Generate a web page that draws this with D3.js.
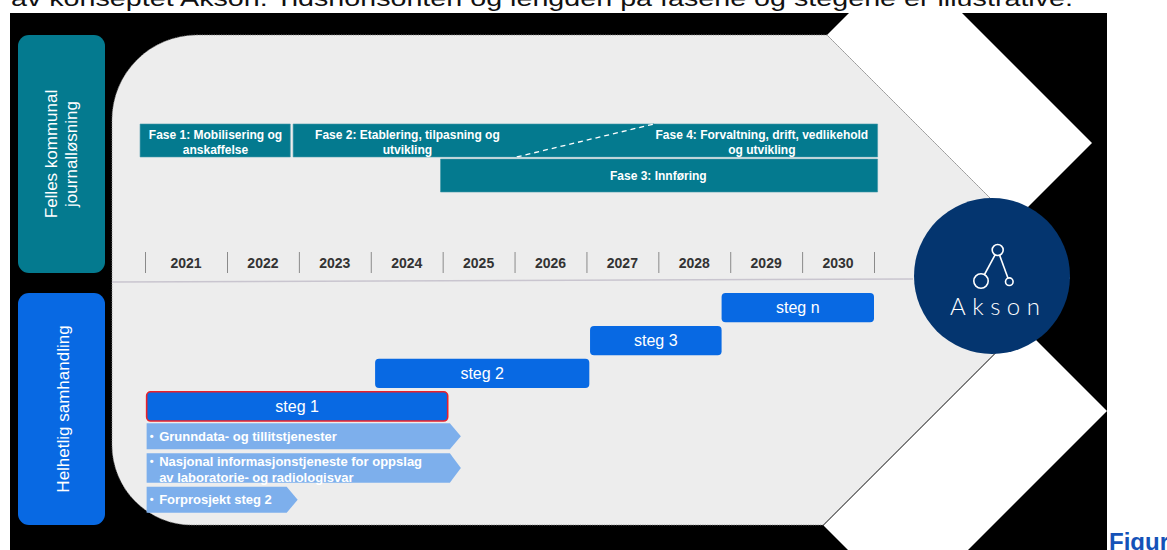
<!DOCTYPE html>
<html><head><meta charset="utf-8">
<script src="https://cdn.jsdelivr.net/npm/d3@7"></script>
<style>html,body{margin:0;padding:0;background:#fff;overflow:hidden}svg{display:block;font-family:"Liberation Sans",Arial,sans-serif}</style>
</head><body>
<svg id="c" width="1167" height="550"></svg>
<script>
// ---- data ----
const years = [2021, 2022, 2023, 2024, 2025, 2026, 2027, 2028, 2029, 2030];
const yearBounds = [2021, 2022, 2023, 2024, 2025, 2026, 2027, 2028, 2029, 2030, 2031];
const phaseLabels = [["Fase 1: Mobilisering og", "anskaffelse"], ["Fase 2: Etablering, tilpasning og", "utvikling"], ["Fase 3: Innføring"], ["Fase 4: Forvaltning, drift, vedlikehold", "og utvikling"]];
const phaseRow = [0, 0, 1, 0];
const phaseStartTop = [2020.94, 2022.92, 2024.97, 2027.94];
const phaseStartBottom = [2020.94, 2022.92, 2024.97, 2026.03];
const phaseEndTop = [2022.88, 2027.94, 2031.05, 2031.05];
const phaseEndBottom = [2022.88, 2026.03, 2031.05, 2031.05];
const phaseLabelYear = [2021.86, 2024.51, 2028.0, 2029.44];
const stepLabels = ["steg 1", "steg 2", "steg 3", "steg n"];
const stepStart = [2021.02, 2024.06, 2027.05, 2028.88];
const stepEnd = [2025.07, 2027.04, 2028.88, 2031.0];
const itemLabels = [["Grunndata- og tillitstjenester"], ["Nasjonal informasjonstjeneste for oppslag", "av laboratorie- og radiologisvar"], ["Forprosjekt steg 2"]];
const itemStart = [2021.02, 2021.02, 2021.02];
const itemEnd = [2025.1, 2025.1, 2022.83];
const sideLabels = [["Felles kommunal", "journalløsning"], ["Helhetlig samhandling"]];
const captionText = "av konseptet Akson. Tidshorisonten og lengden på fasene og stegene er illustrative.";
const figText = "Figur";
const logoText = "Akson";

// ---- drawing ----
const svg = d3.select("#c");
const x = d3.scaleLinear().domain([2021, 2022, 2031]).range([145, 227, 874]);
const teal = "#047a8f", blue = "#0869e3", lightBlue = "#7dafec";

// caption (cut off at top)
svg.append("text").attr("x", 11).attr("y", 6).attr("font-size", 22).attr("fill", "#111")
  .attr("textLength", 1062).attr("lengthAdjust", "spacingAndGlyphs").text(captionText);

// black backdrop
svg.append("rect").attr("x", 10).attr("y", 13).attr("width", 1097).attr("height", 537).attr("fill", "#000");

// white chevron bands
svg.append("path").attr("fill", "#fff")
  .attr("d", "M827,35 L849,13 L962,13 L1092,143 L1013.5,221.5 Z");
svg.append("path").attr("fill", "#fff")
  .attr("d", "M1022.5,326.5 L1107,411 L968,550 L848,550 L823.5,525.5 Z");

// gray arrow body
svg.append("path").attr("fill", "#ededed").attr("stroke", "#8a8a8a").attr("stroke-width", 0.8)
  .attr("stroke-dasharray", "1.2 1.2")
  .attr("d", "M197,35 L827,35 L1070,278 L823,525 L192,525 A80,80 0 0 1 112,445 L112,120 A85,85 0 0 1 197,35 Z");

// divider line
svg.append("line").attr("x1", 112).attr("y1", 282).attr("x2", 913).attr("y2", 279)
  .attr("stroke", "#c9c5cf").attr("stroke-width", 1.5);

// side label boxes
const sideBoxes = [{y0: 35, y1: 273, fill: teal}, {y0: 293, y1: 525, fill: blue}];
sideLabels.forEach((lines, i) => {
  const b = sideBoxes[i];
  svg.append("rect").attr("x", 18).attr("y", b.y0).attr("width", 87).attr("height", b.y1 - b.y0)
    .attr("rx", 11).attr("fill", b.fill);
  const g = svg.append("g").attr("transform", `translate(61.5,${(b.y0 + b.y1) / 2}) rotate(-90)`);
  const base = lines.length === 1 ? 7.5 : -4.5;
  lines.forEach((t, j) => {
    g.append("text").attr("x", 0).attr("y", base + j * 20).attr("text-anchor", "middle")
      .attr("font-size", 17).attr("fill", "#fff").text(t);
  });
});

// phases
const rowY = d3.scaleBand().domain([0, 1]).range([124, 192]).paddingInner(0.06);
phaseLabels.forEach((lines, i) => {
  const y0 = rowY(phaseRow[i]), y1 = y0 + rowY.bandwidth();
  svg.append("path").attr("fill", teal).attr("stroke", "#3f97a8").attr("stroke-width", 0.6)
    .attr("d", `M${x(phaseStartTop[i])},${y0} L${x(phaseEndTop[i])},${y0} L${x(phaseEndBottom[i])},${y1} L${x(phaseStartBottom[i])},${y1} Z`);
});
// hide seam between fase 2 and 4 then dashed divider
svg.append("path").attr("fill", teal)
  .attr("d", `M${x(phaseEndTop[1]) - 3},${rowY(0) + 0.4} L${x(phaseEndTop[1]) + 3},${rowY(0) + 0.4} L${x(phaseEndBottom[1]) + 3},${rowY(0) + rowY.bandwidth() - 0.4} L${x(phaseEndBottom[1]) - 3},${rowY(0) + rowY.bandwidth() - 0.4} Z`);
svg.append("line").attr("x1", x(phaseEndBottom[1])).attr("y1", rowY(0) + rowY.bandwidth())
  .attr("x2", x(phaseEndTop[1])).attr("y2", rowY(0))
  .attr("stroke", "#fff").attr("stroke-width", 1.3).attr("stroke-dasharray", "5 4");
phaseLabels.forEach((lines, i) => {
  const y0 = rowY(phaseRow[i]);
  const first = lines.length === 1 ? y0 + rowY.bandwidth() / 2 + 4.5 : y0 + 15;
  lines.forEach((t, j) => {
    svg.append("text").attr("x", x(phaseLabelYear[i])).attr("y", first + j * 14.5)
      .attr("text-anchor", "middle").attr("font-size", 12).attr("font-weight", "bold")
      .attr("fill", "#fff").text(t);
  });
});

// year axis
const axisG = svg.append("g").attr("transform", "translate(0,273)")
  .call(d3.axisTop(x).tickValues(yearBounds).tickSize(21).tickFormat(""));
axisG.select(".domain").remove();
axisG.selectAll(".tick line").attr("stroke", "#8a8a8a").attr("stroke-width", 1);
svg.selectAll(".yl").data(years).join("text").attr("class", "yl")
  .attr("x", d => x(d + 0.5)).attr("y", 268).attr("text-anchor", "middle")
  .attr("font-size", 14).attr("font-weight", "bold").attr("fill", "#333").text(d => d);

// steps
const stepY = d3.scaleBand().domain([3, 2, 1, 0]).range([293, 421]).paddingInner(0.113);
stepLabels.forEach((t, i) => {
  const y0 = stepY(i);
  svg.append("rect").attr("x", x(stepStart[i])).attr("y", y0)
    .attr("width", x(stepEnd[i]) - x(stepStart[i])).attr("height", stepY.bandwidth())
    .attr("rx", 4).attr("fill", blue)
    .attr("stroke", i === 0 ? "#e8202a" : "none").attr("stroke-width", 1.6);
  svg.append("text").attr("x", (x(stepStart[i]) + x(stepEnd[i])) / 2).attr("y", y0 + stepY.bandwidth() / 2 + 5.5)
    .attr("text-anchor", "middle").attr("font-size", 16).attr("fill", "#fff").text(t);
});

// step 1 items (chevrons)
let iy = 423.3;
itemLabels.forEach((lines, i) => {
  const h = lines.length === 1 ? 26 : 29.5;
  const x0 = x(itemStart[i]), x1 = x(itemEnd[i]);
  svg.append("path").attr("fill", lightBlue)
    .attr("d", `M${x0},${iy} L${x1},${iy} L${x1 + 11},${iy + h / 2} L${x1},${iy + h} L${x0},${iy + h} Z`);
  const first = lines.length === 1 ? iy + h / 2 + 4.5 : iy + 12.5;
  svg.append("text").attr("x", x0 + 3).attr("y", first - 1).attr("font-size", 11).attr("font-weight", "bold")
    .attr("fill", "#fff").text("•");
  lines.forEach((t, j) => {
    svg.append("text").attr("x", x0 + 12.5).attr("y", first + j * 15.7).attr("font-size", 13)
      .attr("font-weight", "bold").attr("fill", "#fff").text(t);
  });
  iy += h + 4;
});

// Akson logo
const logo = svg.append("g").attr("transform", "translate(992,276)");
logo.append("circle").attr("r", 78).attr("fill", "#04356f");
const nodes = [{cx: 5.7, cy: -26, r: 5.5}, {cx: -11, cy: 5, r: 7.2}, {cx: 17.3, cy: 5.7, r: 3.8}];
[[0, 1], [0, 2]].forEach(([a, b]) => {
  logo.append("line").attr("x1", nodes[a].cx).attr("y1", nodes[a].cy).attr("x2", nodes[b].cx).attr("y2", nodes[b].cy)
    .attr("stroke", "#fff").attr("stroke-width", 1.6);
});
nodes.forEach(n => logo.append("circle").attr("cx", n.cx).attr("cy", n.cy).attr("r", n.r)
  .attr("fill", "#04356f").attr("stroke", "#fff").attr("stroke-width", 1.6));
logo.append("text").attr("x", -42).attr("y", 39).attr("font-family", "Lato, 'Open Sans', sans-serif")
  .attr("font-weight", 300).attr("font-size", 24).attr("fill", "#fff")
  .attr("textLength", 90).attr("lengthAdjust", "spacing").text(logoText);

// figure caption fragment (cut at the right and bottom edges as in the source)
svg.append("text").attr("x", 1109).attr("y", 550).attr("font-size", 24).attr("font-weight", "bold")
  .attr("fill", "#1552b8").text(figText);
</script>
</body></html>
